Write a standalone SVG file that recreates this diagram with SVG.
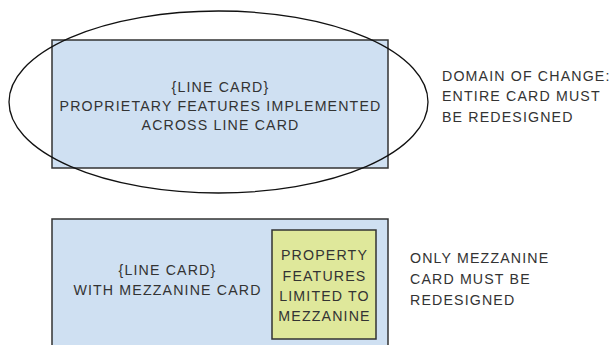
<svg xmlns="http://www.w3.org/2000/svg" width="609" height="345" viewBox="0 0 609 345">
<style>
.card{fill:#cfe0f2;stroke:#333;stroke-width:1.5}
.mez{fill:#dfe89b;stroke:#333;stroke-width:1.5}
.t{font-family:"Liberation Sans",Arial,sans-serif;font-size:14.2px;letter-spacing:1.15px;fill:#333}
.c{text-anchor:middle}
</style>
<rect width="609" height="345" fill="#fff"/>
<g id="line-card-top">
<rect class="card" x="52" y="40" width="336" height="128"/>
<text class="t c" x="220.5" y="91.5">{LINE CARD}</text>
<text class="t c" x="220.5" y="110.5">PROPRIETARY FEATURES IMPLEMENTED</text>
<text class="t c" x="220.5" y="129.5">ACROSS LINE CARD</text>
</g>
<g id="domain-ellipse">
<ellipse cx="218.5" cy="102" rx="209.5" ry="91" fill="none" stroke="#111" stroke-width="1.3"/>
</g>
<g id="note-top">
<text class="t" x="442" y="81">DOMAIN OF CHANGE:</text>
<text class="t" x="442" y="101">ENTIRE CARD MUST</text>
<text class="t" x="442" y="122">BE REDESIGNED</text>
</g>
<g id="line-card-bottom">
<rect class="card" x="52" y="219" width="336" height="140"/>
<text class="t c" x="167.5" y="275">{LINE CARD}</text>
<text class="t c" x="167.5" y="295">WITH MEZZANINE CARD</text>
</g>
<g id="mezzanine">
<rect class="mez" x="272" y="230" width="104" height="109"/>
<text class="t c" x="324.5" y="260">PROPERTY</text>
<text class="t c" x="324.5" y="281">FEATURES</text>
<text class="t c" x="324.5" y="301">LIMITED TO</text>
<text class="t c" x="324.5" y="321">MEZZANINE</text>
</g>
<g id="note-bottom">
<text class="t" x="410" y="263">ONLY MEZZANINE</text>
<text class="t" x="410" y="284">CARD MUST BE</text>
<text class="t" x="410" y="305">REDESIGNED</text>
</g>
<g id="connectors"/>
</svg>
